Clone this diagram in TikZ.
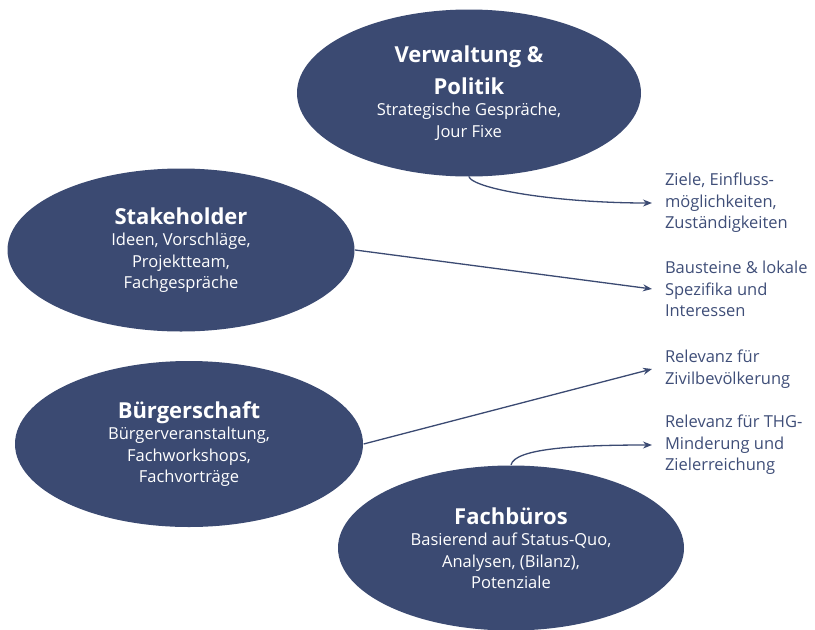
\documentclass[tikz,border=0pt]{standalone}
\usepackage{fontspec}
\setmainfont{Open Sans}
\usetikzlibrary{arrows.meta, positioning, shapes.geometric}
\definecolor{cnavy}{HTML}{3B4A72}
\definecolor{ctext}{HTML}{3F4E78}
\tikzset{
  every picture/.style={line width=1.3pt},
  blob/.style={ellipse, fill=cnavy, text=white, align=center, inner sep=0pt,
    minimum width=346pt, minimum height=165pt, font=\fontsize{16.5}{21.5}\selectfont},
  goal/.style={anchor=west, align=left, text=ctext, inner sep=3pt, outer xsep=10pt,
    font=\fontsize{16.5}{21.5}\selectfont},
  link/.style={-{Stealth[length=9pt, width=7pt]}, draw=cnavy},
}
\newcommand{\blobtitle}[1]{{\fontsize{22}{28}\selectfont\bfseries #1}}

\begin{document}
\begin{tikzpicture}[x=1pt, y=-1pt]
  \useasboundingbox (0,0) rectangle (815,630);
  % groups
  \node[blob, minimum width=344pt, minimum height=167pt] (verw) at (469,93)
    {\blobtitle{Verwaltung \&}\\[9pt]\blobtitle{Politik}\\Strategische Gespräche,\\Jour Fixe};
  \node[blob, minimum width=347pt, minimum height=163pt] (stake) at (181,250)
    {\blobtitle{Stakeholder}\\Ideen, Vorschläge,\\Projektteam,\\Fachgespräche};
  \node[blob, minimum width=348pt, minimum height=166pt] (buerg) at (189,444)
    {\blobtitle{Bürgerschaft}\\Bürgerveranstaltung,\\Fachworkshops,\\Fachvorträge};
  \node[blob] (fach) at (511,548)
    {\blobtitle{Fachbüros}\\Basierend auf Status-Quo,\\Analysen, (Bilanz),\\Potenziale};
  % results
  \node[goal] (lziele) at (652,203) {Ziele, Einfluss-\\möglichkeiten,\\Zuständigkeiten};
  \node[goal] (lbaus) at (652,289) {Bausteine \& lokale\\Spezifika und\\Interessen};
  \node[goal] (lzivil) at (652,369) {Relevanz für\\Zivilbevölkerung};
  \node[goal] (lthg) at (652,445) {Relevanz für THG-\\Minderung und\\Zielerreichung};
  \draw[link] (verw.south) .. controls +(8,13) and +(-90,0) .. (lziele.west);
  \draw[link] (stake.east) -- (lbaus.west);
  \draw[link] (buerg.east) -- (lzivil.west);
  \draw[link] (fach.north) .. controls +(4,-16) and +(-80,0) .. (lthg.west);
\end{tikzpicture}
\end{document}
